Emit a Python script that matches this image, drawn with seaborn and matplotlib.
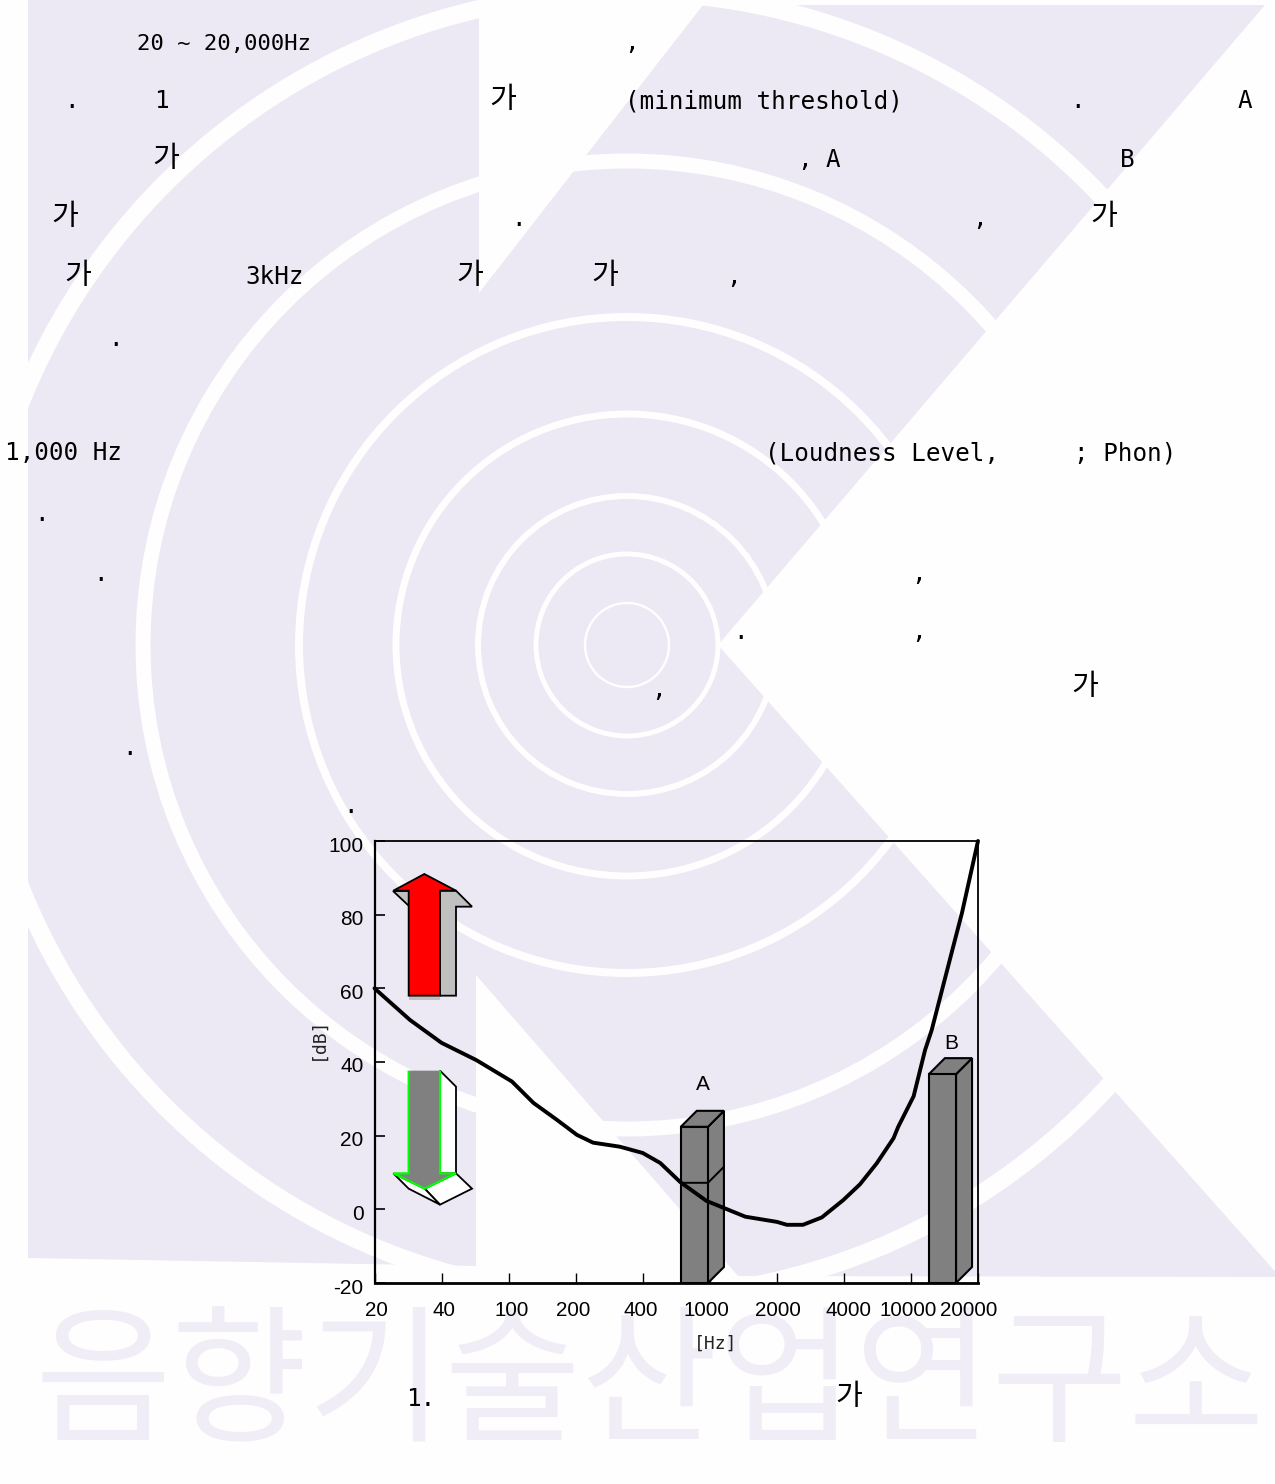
import matplotlib
matplotlib.use("Agg")
import matplotlib.pyplot as plt
import seaborn as sns
from matplotlib.patches import Polygon, Wedge
from matplotlib.transforms import ScaledTranslation

# ---------- data ----------
freq_labels = ["20", "40", "100", "200", "400", "1000", "2000", "4000", "10000", "20000"]
db_ticks = [-20, 0, 20, 40, 60, 80, 100]
curve_pos = [0, 0.53, 1.0, 1.52, 2.05, 2.37, 2.72, 3.02, 3.26, 3.66, 4.0, 4.26, 4.56, 4.95,
             5.53, 6.0, 6.15, 6.39, 6.67, 6.99, 7.24, 7.49, 7.74, 7.81, 8.04, 8.21, 8.31, 8.63, 8.76, 9]
curve_db = [60, 51.4, 45.2, 40.5, 34.7, 28.9, 24.3, 20.2, 18.1, 17, 15.3, 12.6, 7.4, 2.3,
            -2, -3.4, -4.2, -4.2, -2.2, 2.5, 6.8, 12.5, 19.3, 22.4, 30.7, 43.2, 48.7, 71.3, 80.4, 100]
band_pos = [4.77, 8.47]
band_top_db = [22.4, 36.7]
band_labels = ["A", "B"]
band_a_mid_db = 7.2

body_latin = [
    (137, 50, "20 ~ 20,000Hz", 16), (624, 50, ",", 17.5),
    (64, 108, ".", 17.5), (154, 108, "1", 17.5), (625, 108, "(minimum threshold)", 17.5),
    (1070, 108, ".", 17.5), (1238, 108, "A", 17.5),
    (797, 167, ",", 17.5), (826, 167, "A", 17.5), (1120, 167, "B", 17.5),
    (511, 226, ".", 17.5), (972, 226, ",", 17.5),
    (245, 284, "3kHz", 17.5), (726, 284, ",", 17.5),
    (108, 346, ".", 17.5),
    (5, 460, "1,000 Hz", 17.5), (765, 460, "(Loudness Level,", 17.5), (1074, 460, "; Phon)", 17.5),
    (34, 521, ".", 17.5), (93, 581, ".", 17.5), (911, 581, ",", 17.5),
    (733, 639, ".", 17.5), (911, 639, ",", 17.5), (651, 697, ",", 17.5),
    (122, 755, ".", 17.5), (343, 813, ".", 17.5), (406, 1406, "1.", 17.5),
]
body_ga = [(489, 108), (152, 167), (51, 225), (1090, 225), (64, 284), (456, 284), (591, 284),
           (1071, 695), (835, 1405)]
watermark_text = "음향기술산업연구소"
ring_radius = [42, 91, 149, 231, 328, 484, 653]
ring_width = [2.5, 5, 6, 7, 8, 15, 18]

# ---------- style ----------
sns.set_theme(style="white")
plt.rcParams["axes.unicode_minus"] = False
PAGE, LAV = "#FEFEFE", "#ECE8F4"
SANS = ["Liberation Sans", "DejaVu Sans"]
MONO = ["DejaVu Sans Mono", "Noto Sans CJK KR"]
CJK = ["Noto Sans CJK KR", "DejaVu Sans"]

W, H = 1275, 1484
fig = plt.figure(figsize=(W / 100, H / 100), dpi=100, facecolor=PAGE)

# ---------- page layer, in page pixels ----------
page = fig.add_axes([0, 0, 1, 1], zorder=0)
page.set_xlim(0, W)
page.set_ylim(H, 0)
page.axis("off")

logo = [(28, 0), (479, 0), (479, 293), (703, 5), (1265, 5), (718, 645), (1280, 1277), (738, 1276),
        (476, 975), (476, 1266), (28, 1258)]
page.add_patch(Polygon(logo, closed=True, fc=LAV, ec="none", zorder=1))
for r, w in zip(ring_radius, ring_width):
    page.add_patch(Wedge((627, 645), r + w / 2, 0, 360, width=w, fc=PAGE, ec="none", zorder=2))
page.text(650, 1388, watermark_text, ha="center", va="center", fontsize=107,
          family=CJK, fontweight="light", color="#F0EDF6", zorder=2)

for x, y, s, size in body_latin:
    page.text(x, y, s, ha="left", va="baseline", fontsize=size, family=MONO, color="black", zorder=5)
for x, y in body_ga:
    page.text(x, y, "가", ha="left", va="baseline", fontsize=21, family=CJK, color="black", zorder=5)


def arrow_poly(points, ox, oy, **kw):
    pts = [(ox + a / 3, oy + b / 3) for a, b in points]
    kw.setdefault("closed", True)
    page.add_patch(Polygon(pts, joinstyle="miter", zorder=6, **kw))


# up arrow
ux, uy = 300, 820
arrow_poly([(420, 212), (468, 212), (516, 260), (468, 260), (468, 527), (420, 527)], ux, uy,
           fc="#C0C0C0", ec="black", lw=1.3)
arrow_poly([(280, 212), (326, 212), (326, 258)], ux, uy, fc="#C0C0C0", ec="black", lw=1.3)
arrow_poly([(326, 527), (420, 527), (420, 540), (326, 540)], ux, uy, fc="#C0C0C0", ec="none")
arrow_poly([(373, 162), (468, 212), (420, 212), (420, 527), (326, 527), (326, 212), (280, 212)],
           ux, uy, fc="#FF0000", ec="black", lw=1.3)
# down arrow
dx, dy = 300, 1050
arrow_poly([(420, 62), (468, 110), (468, 370), (420, 370)], dx, dy, fc="white", ec="black", lw=1.3)
arrow_poly([(468, 370), (516, 416), (420, 464), (374, 416)], dx, dy, fc="white", ec="black", lw=1.3)
arrow_poly([(280, 370), (326, 416), (420, 464), (374, 416)], dx, dy, fc="white", ec="black", lw=1.3)
arrow_poly([(326, 62), (420, 62), (420, 370), (468, 370), (374, 416), (280, 370), (326, 370)],
           dx, dy, fc="#808080", ec="none")
arrow_poly([(326, 62), (326, 370), (280, 370), (374, 416), (468, 370), (420, 370), (420, 62)],
           dx, dy, closed=False, fill=False, ec="#00FF00", lw=1.6)

# ---------- chart ----------
ax_l, ax_r, ax_t, ax_b = 374.5, 978, 841, 1283
ax = fig.add_axes([ax_l / W, 1 - ax_b / H, (ax_r - ax_l) / W, (ax_b - ax_t) / H], zorder=2)
ax.patch.set_alpha(0)

band_w = 0.405
band_heights = [t - db_ticks[0] for t in band_top_db]
sns.barplot(x=band_pos, y=band_heights, native_scale=True, ax=ax, color="#808080", saturation=1,
            width=band_w / (band_pos[1] - band_pos[0]), bottom=db_ticks[0],
            edgecolor="black", linewidth=1.5, zorder=3, clip_on=False)

ax.set_xlim(0, len(freq_labels) - 1)
ax.set_ylim(db_ticks[0], db_ticks[-1])
px_x = (len(freq_labels) - 1) / (ax_r - ax_l)
px_y = (db_ticks[-1] - db_ticks[0]) / (ax_b - ax_t)
depth_x, depth_y = 16 * px_x, 16 * px_y

for pos, top in zip(band_pos, band_top_db):
    x1 = pos + band_w / 2
    x0 = pos - band_w / 2
    base = db_ticks[0]
    ax.add_patch(Polygon([(x1, base), (x1 + depth_x, base + depth_y), (x1 + depth_x, top + depth_y), (x1, top)],
                         fc="#808080", ec="black", lw=1.5, zorder=2.9, clip_on=False))
    ax.add_patch(Polygon([(x0, top), (x0 + depth_x, top + depth_y), (x1 + depth_x, top + depth_y), (x1, top)],
                         fc="#808080", ec="black", lw=1.5, zorder=2.9, clip_on=False))
a0, a1 = band_pos[0] - band_w / 2, band_pos[0] + band_w / 2
ax.plot([a0, a1, a1 + depth_x], [band_a_mid_db, band_a_mid_db, band_a_mid_db + depth_y],
        color="black", lw=1.4, zorder=3.5)

sns.lineplot(x=curve_pos, y=curve_db, ax=ax, color="black", linewidth=2.8, sort=False,
             errorbar=None, zorder=5, clip_on=False)

label_lift = [17, 5]
for pos, top, lab, lift in zip(band_pos, band_top_db, band_labels, label_lift):
    ax.annotate(lab, (pos + depth_x / 2, top + depth_y), xytext=(1, lift), textcoords="offset pixels",
                ha="center", va="bottom", fontsize=15, family=SANS, color="black", zorder=6)

for s in ax.spines.values():
    s.set_visible(True)
    s.set_color("black")
ax.spines["left"].set_linewidth(1.6)
ax.spines["bottom"].set_linewidth(2.0)
ax.spines["top"].set_linewidth(1.3)
ax.spines["right"].set_linewidth(1.3)

ax.set_xticks(range(len(freq_labels)), freq_labels)
ax.set_yticks(db_ticks, [str(v) for v in db_ticks])
ax.tick_params(axis="x", direction="in", length=7, width=1, pad=13, labelsize=14.8, bottom=True, colors="black")
ax.tick_params(axis="y", direction="in", length=7, width=1.2, pad=8, labelsize=15, left=True, colors="black")
for lab in ax.get_xticklabels() + ax.get_yticklabels():
    lab.set_fontfamily(SANS)
x_nudge = [1.5, 2, 3.3, -2, -2, -3, 1, 5, -3, -9]
for lab, n in zip(ax.get_xticklabels(), x_nudge):
    lab.set_transform(lab.get_transform() + ScaledTranslation(n / 100, 0, fig.dpi_scale_trans))
for lab in ax.get_yticklabels():
    lab.set_transform(lab.get_transform() + ScaledTranslation(0, -3 / 100, fig.dpi_scale_trans))

page.text(318, 1038, "[dB]", rotation=90, ha="center", va="center", fontsize=13, family=MONO, color="#222222", zorder=6)
page.text(716, 1344, "[Hz]", ha="center", va="center", fontsize=13, family=MONO, color="#222222", zorder=6)

fig.savefig("out.png", dpi=100, facecolor=PAGE)
